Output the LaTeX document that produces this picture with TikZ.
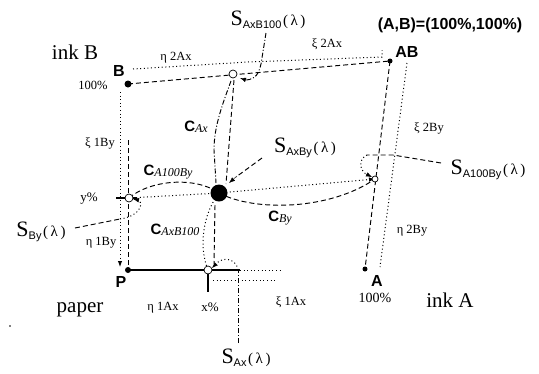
\documentclass[tikz,border=0pt]{standalone}
\usepackage{fontspec}
\setmainfont{Liberation Serif}
\setsansfont{Liberation Sans}
\usetikzlibrary{arrows.meta}
\newcommand{\Slab}[1]{{\fontsize{22}{22}\selectfont S}\raisebox{-2.5pt}{\sffamily\fontsize{11}{11}\selectfont #1}\,{\fontsize{15}{15}\selectfont (\,λ\,)}}
\newcommand{\Clab}[1]{{\sffamily\bfseries\fontsize{15}{15}\selectfont C}\raisebox{-1.5pt}{\itshape\fontsize{12}{12}\selectfont #1}}
\begin{document}
\begin{tikzpicture}[x=1pt,y=-1pt,
  dline/.style={dash pattern=on 5pt off 3pt, line width=0.95pt},
  dotline/.style={dash pattern=on 1pt off 2.6pt, line width=1pt},
  ddline/.style={dash pattern=on 5pt off 2pt on 1pt off 2pt, line width=0.95pt},
  solidline/.style={line width=1.1pt},
  tip/.style={-{Latex[length=6pt,width=4.5pt]}},
  opt/.style={circle, draw, line width=0.7pt, fill=white, inner sep=0pt, minimum size=8pt},
  fpt/.style={circle, fill, inner sep=0pt, minimum size=5pt},
  big/.style={font=\fontsize{21}{21}\selectfont, inner sep=0pt},
  small/.style={font=\fontsize{12.5}{12.5}\selectfont, inner sep=0pt},
  bsans/.style={font=\sffamily\bfseries\fontsize{16}{16}\selectfont, inner sep=0pt},
  lab/.style={inner sep=0pt}]
\useasboundingbox (0,0) rectangle (539,373);
\fill[white] (0,0) rectangle (539,373);

% point coordinates
\coordinate (B) at (128,84);
\coordinate (AB) at (390,61);
\coordinate (A) at (365,269);
\coordinate (P) at (128,270);
\coordinate (SAB) at (233,74);
\coordinate (SBY) at (129,198);
\coordinate (SAX) at (208,270);
\coordinate (SABY) at (375,179);
\coordinate (D) at (219,193);

% helper coordinates
\coordinate (u1) at (133,69);
\coordinate (u2) at (248,62);
\coordinate (u3) at (382,57);
\coordinate (u4) at (382,50);
\coordinate (r1) at (407,63);
\coordinate (r2) at (380,267);
\coordinate (l1) at (120,92);
\coordinate (l2) at (120,267);
\coordinate (l3) at (128,140);
\coordinate (b1) at (240,270);
\coordinate (b2) at (282,270);
\coordinate (b3) at (213,280);
\coordinate (b4) at (276,280);
\coordinate (t1) at (208,292);
\coordinate (v1) at (238,343);
\coordinate (v2) at (238,270);
\coordinate (cA1) at (231,81);
\coordinate (cA2) at (214,150);
\coordinate (cA3) at (216,183);
\coordinate (cD1) at (234,80);
\coordinate (cD2) at (226,184);
\coordinate (vx1) at (215,205);
\coordinate (vx2) at (214,264);

% top edge
\draw[dline] (B) -- (AB);
\draw[dotline] (u1) -- (u2) -- (u3) -- (u4);
% right edge
\draw[dline] (AB) -- (A);
\draw[dotline] (r1) -- (r2);
% left edge
\draw[dotline, tip] (l1) -- (l2);
\draw[dline] (l3) -- (P);
\draw[solidline] (116,198) -- (137,198);
% bottom edge
\draw[solidline] (P) -- (b1);
\draw[dotline] (b1) -- (b2);
\draw[dotline] (b3) -- (b4);
\draw[solidline] (SAX) -- (t1);
% C_Ax
\draw[ddline] (cA1) .. controls (221,108) and (214,128) .. (cA2) -- (cA3);
\draw[dline] (cD1) -- (cD2);
% C_AxB100
\draw[dotline] (D) .. controls (202,215) and (199,248) .. (SAX);
\draw[dline] (vx1) -- (vx2);
% C_By
\draw[dotline, tip] (D) -- (SABY);
\draw[dline] (D) .. controls (255,212) and (330,210) .. (SABY);
% C_A100By
\draw[dotline] (SBY) -- (D);
\draw[dline] (SBY) .. controls (150,180) and (195,176) .. (D);

% labels
\node[big] (inkB) at (75,52) {ink B};
\node[big] (inkA) at (450,300) {ink A};
\node[big] (paper) at (80,310) {paper};
\node[lab, font=\sffamily\bfseries\fontsize{16}{16}\selectfont] (title) at (450,25) {(A,B)=(100\%,100\%)};
\node[bsans] (lAB) at (407,52) {AB};
\node[bsans] (lB) at (119,71) {B};
\node[bsans] (lA) at (377,281) {A};
\node[bsans] (lP) at (121,282) {P};
\node[small] (pB) at (93,85) {100\%};
\node[lab, font=\fontsize{14}{14}\selectfont] (pA) at (375,298) {100\%};
\node[lab, font=\fontsize{13}{13}\selectfont] (xp) at (210,307) {x\%};
\node[lab, font=\fontsize{13}{13}\selectfont] (yp) at (89,199) {y\%};
\node[small] (e2Ax) at (176,58) {η 2Ax};
\node[small] (x2Ax) at (327,44) {ξ 2Ax};
\node[small] (x1By) at (100,143) {ξ 1By};
\node[small] (e1By) at (101,243) {η 1By};
\node[small] (e1Ax) at (163,308) {η 1Ax};
\node[small] (x1Ax) at (291,302) {ξ 1Ax};
\node[small] (x2By) at (429,128) {ξ 2By};
\node[small] (e2By) at (412,231) {η 2By};

\node[lab] (CAx) at (196,127) {\Clab{Ax}};
\node[lab] (CA100By) at (168,172) {\Clab{A100By}};
\node[lab] (CAxB100) at (175,230) {\Clab{AxB100}};
\node[lab] (CBy) at (280,218) {\Clab{By}};

\node[lab] (LSAB) at (268,20) {\Slab{AxB100}};
\node[lab] (LSABY) at (305,148) {\Slab{AxBy}};
\node[lab] (LSA100) at (488,170) {\Slab{A100By}};
\node[lab] (LSBY) at (41,232) {\Slab{By}};
\node[lab] (LSAX) at (246,358) {\Slab{Ax}};

% leaders
\draw[ddline] (266,33) -- (261,64) .. controls (258,78) and (252,80) .. (244,80);
\draw[tip] (246,80) -- (240,78);
\draw[dline] (262,158) -- (236,177);
\draw[tip] (237,176) -- (229,183);
\draw[dline] (441,163) -- (393,155) -- (367,155);
\draw[dotline] (367,155) .. controls (357,160) and (360,172) .. (368,175);
\draw[tip] (366,174) -- (372,177);
\draw[dline] (75,228) -- (120,219);
\draw[dotline] (120,219) .. controls (142,216) and (145,200) .. (136,200);
\draw[tip] (138,200) -- (133,199);
\draw[ddline] (v1) -- (v2);
\draw[dotline] (v2) .. controls (236,258) and (222,256) .. (215,265);
\draw[tip] (216,264) -- (212,268);

% point markers
\node[fpt, minimum size=7pt] (mB) at (B) {};
\node[fpt] (mAB) at (AB) {};
\node[fpt] (mA) at (A) {};
\node[fpt, minimum size=6pt] (mP) at (P) {};
\node[opt] (mSAB) at (SAB) {};
\node[opt] (mSBY) at (SBY) {};
\node[opt] (mSAX) at (SAX) {};
\node[opt, minimum size=6pt] (mSABY) at (SABY) {};
\node[circle, fill, inner sep=0pt, minimum size=17pt] (mD) at (D) {};
\fill (10,326) circle (0.8pt);
\end{tikzpicture}
\end{document}
